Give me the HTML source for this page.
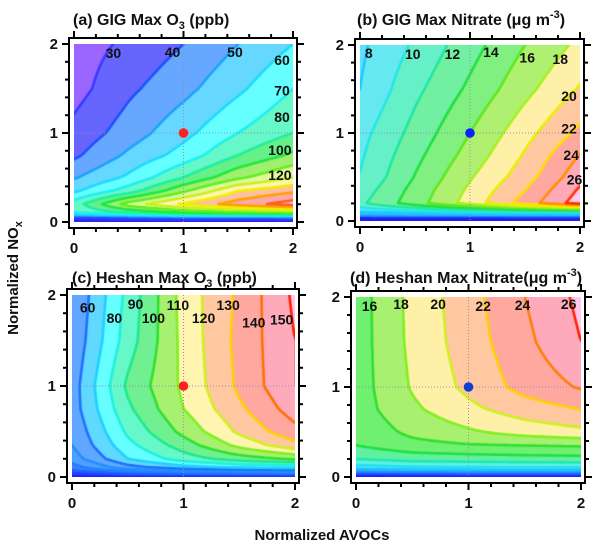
<!DOCTYPE html>
<html><head><meta charset="utf-8">
<style>
html,body{margin:0;padding:0;background:#fff;}
#root{position:relative;width:600px;height:545px;overflow:hidden;background:#fff;font-family:"Liberation Sans",Arial,sans-serif;}
canvas{position:absolute;}
svg{position:absolute;left:0;top:0;}
text{font-family:"Liberation Sans",Arial,sans-serif;font-weight:bold;fill:#111;}
</style></head>
<body>
<div id="root">
<canvas id="cv-a"></canvas>
<canvas id="cv-b"></canvas>
<canvas id="cv-c"></canvas>
<canvas id="cv-d"></canvas>
<svg id="ov" width="600" height="545">
<text x="73" y="25" font-size="16">(a) GIG Max O<tspan font-size="11" dy="4">3</tspan><tspan dy="-4"> (ppb)</tspan></text>
<text x="357" y="25" font-size="16">(b) GIG Max Nitrate (μg m<tspan font-size="11" dy="-7">-3</tspan><tspan dy="7">)</tspan></text>
<text x="72" y="283" font-size="16">(c) Heshan Max O<tspan font-size="11" dy="4">3</tspan><tspan dy="-4"> (ppb)</tspan></text>
<text x="350" y="283" font-size="16">(d) Heshan Max Nitrate(μg m<tspan font-size="11" dy="-7">-3</tspan><tspan dy="7">)</tspan></text>
<text x="0" y="0" font-size="15" text-anchor="middle" transform="translate(18,278) rotate(-90)">Normalized NO<tspan font-size="11" dy="4">x</tspan></text>
<text x="322" y="540" font-size="15" text-anchor="middle">Normalized AVOCs</text>
</svg>
</div>
<script>
const XG=[0,0.5,1,1.5,2];
const YG=[0,0.05,0.1,0.2,0.35,0.5,0.75,1,1.5,2];
// rows from y=0 upward, columns x=0..2
const gigO3=[
[0,0,0,0,0],
[30,35,40,40,40],
[70,80,90,95,98],
[75,105,122,135,145],
[58,75,98,120,128],
[49,62,80,98,110],
[38,52,64,80,92],
[33,45,57,70,80],
[26,38,47,58,70],
[25,32,40,50,60]];
const gigNO3=[
[0,0,0,0,0],
[3,3,3,3,3],
[8,9,9.5,10,10],
[11.6,15.1,18.9,22.9,27.1],
[10.9,14.7,18.4,22,26.3],
[10.1,14.1,17.8,21.1,25.3],
[9.7,13.4,16.8,20.2,24.1],
[9.3,12.7,16,19.3,22.5],
[8,11.5,14.4,17.4,20.2],
[7.6,10.3,13.2,16,18.5]];
const heshanO3=[
[5,5,5,5,5],
[25,35,40,42,45],
[35,55,65,70,72],
[45,70,85,95,102],
[50,77,95,113,127],
[52,82,103,122,137],
[55,88,110,128,145],
[55,92,112,132,150],
[52,85,113,133,150],
[50,83,114,132,152]];
const heshanNO3=[
[1,1,1,1,1],
[5,5.5,5.7,5.8,5.9],
[9,9.5,9.7,9.8,9.9],
[12,12.8,13,13.2,13.3],
[14,15.3,15.8,16,16.2],
[14.5,16.5,17.7,18.8,19.5],
[15,17.6,19.5,21,22],
[15,18.2,20.5,22.7,24.2],
[15,18.5,21,23.5,26],
[15,18.6,21.2,24,26.5]];
const levelsA=[20,30,40,50,60,70,80,90,100,110,120,130,140];
const levelsB=[2,4,6,8,10,12,14,16,18,20,22,24,26];
const levelsC=[10,20,30,40,50,60,70,80,90,100,110,120,130,140,150];
const levelsD=[2,4,6,8,10,12,14,16,18,20,22,24,26];
const labelsA=[30,40,50,60,70,80,100,120];
const labelsB=[8,10,12,14,16,18,20,22,24,26];
const labelsC=[60,80,90,100,110,120,130,140,150];
const labelsD=[16,18,20,22,24,26];
const baseCase=[1,1];
const xTicks=[0,1,2];
const yTicks=[0,1,2];

// styles (not data)
const fillsA=['#2828e8','#9a66ff','#6666ff','#66a8ff','#66d8ff','#66ffff','#66f8c8','#66f088','#a0f070','#e0f898','#fff4b0','#ffc0a0','#ffa8a8','#ffc0e0'];
const linesA=['#3030ff','#3a3aff','#2050ff','#20a0ff','#20d8ff','#20f0f0','#20f0a0','#20e840','#60f020','#c8f020','#f0f000','#ffa000','#ff6020'];
const fillsB=['#2020e0','#3060ff','#40b0ff','#60e0ff','#66e8f0','#66f0c8','#70f0a0','#80f080','#b0f070','#fff0a8','#ffc8a0','#ffa8a0','#ffa8b8','#ffc8ec'];
const linesB=['#2020ff','#2080ff','#20c0ff','#20c8ff','#20e8e8','#20e8a0','#20e040','#60e820','#a8f020','#e8f000','#ffe000','#ff9000','#ff3000'];
const fillsC=['#2020d0','#2030ff','#3050ff','#4080ff','#50a0ff','#60a8ff','#60d8ff','#66ffff','#66f8c8','#70f090','#a8f070','#fff4b0','#ffc8a0','#ffa8a0','#ffaabb','#ffc8ec'];
const linesC=['#2020ff','#2040ff','#2060ff','#2080ff','#2090ff','#2070ff','#20d0ff','#20f0e0','#20e890','#30e030','#80f020','#d0f020','#ffd000','#ff7000','#ff2000'];
const fillsD=['#2020d0','#2030ff','#3070ff','#40b0ff','#50e0ff','#60f0e0','#60f0a0','#70f070','#a8f070','#fff0a8','#ffc8a0','#ffa8a0','#ffaabb','#ffc8ec'];
const linesD=['#2020ff','#2050ff','#2090ff','#20c0ff','#20e0f0','#20e8b0','#20e040','#30e030','#80f020','#d0f020','#ffd000','#ff8000','#ff2000'];

const panels=[
 {id:'a',grid:gigO3,levels:levelsA,labels:labelsA,fills:fillsA,lines:linesA,x0:74,x1:293,y0:222,y1:44,dot:'#ff2020',
  lpos:[[0.36,1.9],[0.9,1.91],[1.47,1.91],[1.9,1.82],[1.9,1.48],[1.9,1.18],[1.88,0.81],[1.88,0.53]]},
 {id:'b',grid:gigNO3,levels:levelsB,labels:labelsB,fills:fillsB,lines:linesB,x0:360,x1:580,y0:221,y1:45,dot:'#1020ff',
  lpos:[[0.08,1.91],[0.48,1.9],[0.84,1.9],[1.19,1.92],[1.52,1.86],[1.82,1.84],[1.9,1.42],[1.9,1.05],[1.92,0.75],[1.95,0.47]]},
 {id:'c',grid:heshanO3,levels:levelsC,labels:labelsC,fills:fillsC,lines:linesC,x0:72,x1:295,y0:477,y1:295,dot:'#ff2020',
  lpos:[[0.14,1.86],[0.38,1.75],[0.57,1.9],[0.73,1.75],[0.95,1.89],[1.18,1.75],[1.4,1.89],[1.63,1.7],[1.88,1.73]]},
 {id:'d',grid:heshanNO3,levels:levelsD,labels:labelsD,fills:fillsD,lines:linesD,x0:356,x1:581,y0:477,y1:297,dot:'#1040d0',
  lpos:[[0.12,1.9],[0.4,1.92],[0.73,1.92],[1.13,1.9],[1.48,1.91],[1.89,1.92]]}
];

function seg(arr,v){let i=0;while(i<arr.length-2&&v>arr[i+1])i++;return i;}
function interp(g,x,y){
 const i=seg(XG,x),j=seg(YG,y);
 const tx=Math.min(1,Math.max(0,(x-XG[i])/(XG[i+1]-XG[i])));
 const ty=Math.min(1,Math.max(0,(y-YG[j])/(YG[j+1]-YG[j])));
 const a=g[j][i]*(1-tx)+g[j][i+1]*tx;
 const b=g[j+1][i]*(1-tx)+g[j+1][i+1]*tx;
 return a*(1-ty)+b*ty;
}
function rgb(h){return [parseInt(h.substr(1,2),16),parseInt(h.substr(3,2),16),parseInt(h.substr(5,2),16)];}
const NS='http://www.w3.org/2000/svg';
const ov=document.getElementById('ov');
function mk(tag,attrs){const e=document.createElementNS(NS,tag);for(const k in attrs)e.setAttribute(k,attrs[k]);ov.appendChild(e);return e;}

panels.forEach(p=>{
 const W=p.x1-p.x0,H=p.y0-p.y1;
 const sx=v=>p.x0+v/2*W, sy=v=>p.y0-v/2*H;
 const cv=document.getElementById('cv-'+p.id);
 cv.width=W;cv.height=H;cv.style.left=p.x0+'px';cv.style.top=p.y1+'px';
 const ctx=cv.getContext('2d');
 const img=ctx.createImageData(W,H);
 const fc=p.fills.map(rgb);
 for(let py=0;py<H;py++){for(let px=0;px<W;px++){
  const v=interp(p.grid,(px+0.5)/W*2,2-(py+0.5)/H*2);
  let b=0;while(b<p.levels.length&&v>=p.levels[b])b++;
  const c=fc[b],k=(py*W+px)*4;img.data[k]=c[0];img.data[k+1]=c[1];img.data[k+2]=c[2];img.data[k+3]=255;
 }}
 ctx.putImageData(img,0,0);
 // contour lines via marching squares
 const s=2,nx=Math.ceil(W/s),ny=Math.ceil(H/s);
 const val=[];
 for(let j=0;j<=ny;j++){val.push([]);for(let i=0;i<=nx;i++){val[j].push(interp(p.grid,Math.min(W,i*s)/W*2,2-Math.min(H,j*s)/H*2));}}
 ctx.lineWidth=2.6;ctx.lineCap='round';
 p.levels.forEach((L,li)=>{
  ctx.strokeStyle=p.lines[li];ctx.beginPath();
  for(let j=0;j<ny;j++)for(let i=0;i<nx;i++){
   const X0=i*s,X1=(i+1)*s,Y0=j*s,Y1=(j+1)*s;
   const v00=val[j][i],v10=val[j][i+1],v01=val[j+1][i],v11=val[j+1][i+1];
   const pts=[];
   const e=(a,b,ax,ay,bx,by)=>{if((a<L)!==(b<L)){const t=(L-a)/(b-a);pts.push([ax+(bx-ax)*t,ay+(by-ay)*t]);}};
   e(v00,v10,X0,Y0,X1,Y0);e(v10,v11,X1,Y0,X1,Y1);e(v01,v11,X0,Y1,X1,Y1);e(v00,v01,X0,Y0,X0,Y1);
   for(let q=0;q+1<pts.length;q+=2){ctx.moveTo(pts[q][0],pts[q][1]);ctx.lineTo(pts[q+1][0],pts[q+1][1]);}
  }
  ctx.stroke();
 });
 // grid dotted lines at 1
 const gx=mk('line',{x1:sx(1),x2:sx(1),y1:p.y1,y2:p.y0,stroke:'#9090b0','stroke-width':1,'stroke-dasharray':'1,2'});
 
 
 const gy=mk('line',{x1:p.x0,x2:p.x1,y1:sy(1),y2:sy(1),stroke:'#9090b0','stroke-width':1,'stroke-dasharray':'1,2'});
 
 
 // frame
 const fl=p.x0-5,fr=p.x1+4,ft=p.y1-6,fb=p.y0+6;
 const fr_=mk('rect',{x:fl,y:ft,width:fr-fl,height:fb-ft,fill:'none',stroke:'#000','stroke-width':2});
 
 
 // ticks
 for(let k=0;k<=10;k++){
  const v=k*0.2,major=(k%5===0),len=major?7:4;
  const X=sx(v),Y=sy(v);
  [[X,ft,X,ft-len],[X,fb,X,fb+len],[fl,Y,fl-len,Y],[fr,Y,fr+len,Y]].forEach(c=>{
   const t=mk('line',{x1:c[0],y1:c[1],x2:c[2],y2:c[3],stroke:'#000','stroke-width':2});
   
   
  });
 }
 xTicks.forEach(v=>{
  const t=mk('text',{x:sx(v),y:p.y0+31,'font-size':15,'text-anchor':'middle'});t.textContent=v;
  
  
 });
 yTicks.forEach(v=>{
  const t=mk('text',{x:fl-11,y:sy(v)+5,'font-size':15,'text-anchor':'end'});t.textContent=v;
  
  
 });
 // contour labels
 p.labels.forEach((lv,k)=>{
  const t=mk('text',{x:sx(p.lpos[k][0]),y:sy(p.lpos[k][1])+5,'font-size':14,'text-anchor':'middle'});t.textContent=lv;
  
  
 });
 // base case dot
 const d=mk('circle',{cx:sx(baseCase[0]),cy:sy(baseCase[1]),r:4.8,fill:p.dot});
 
 
});
</script>
</body></html>
